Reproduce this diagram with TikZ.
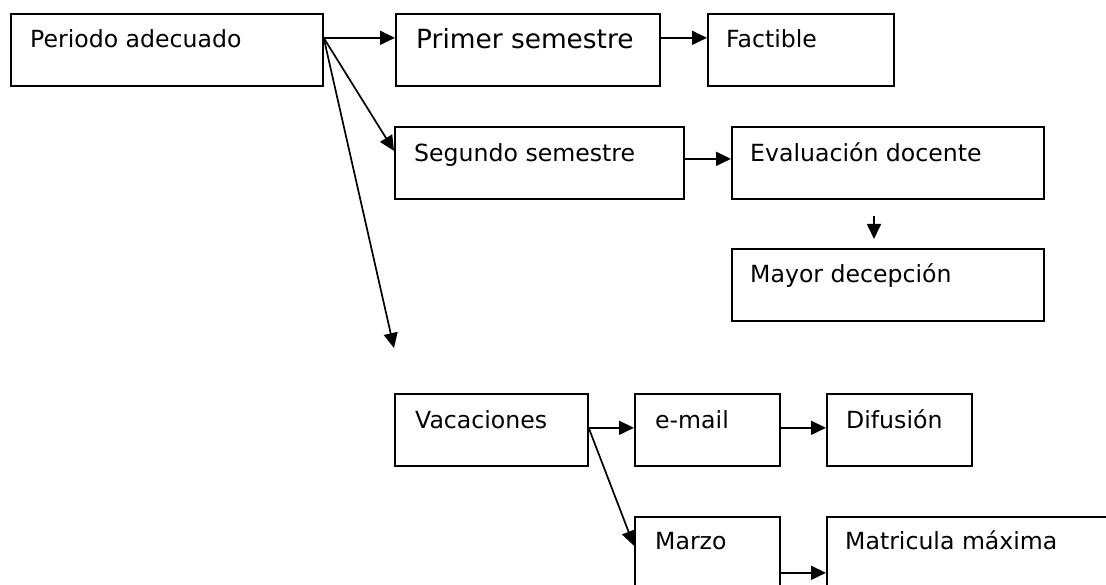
\documentclass[tikz,border=0pt]{standalone}
\usepackage{fontspec}
\setmainfont{DejaVu Sans}
\usetikzlibrary{arrows.meta}
\begin{document}
\begin{tikzpicture}[x=1pt,y=-1pt,
  box/.style={draw=black,line width=1.7pt,minimum width=#1,inner sep=0pt,anchor=north west},
  txt/.style={anchor=base west,inner sep=0pt,font=\fontsize{23.6}{28}\selectfont},
  bigtxt/.style={anchor=base west,inner sep=0pt,font=\fontsize{26.4}{30}\selectfont},
  arr/.style={line width=1.7pt,-{Triangle[length=15pt,width=14pt]}}]
\useasboundingbox (0,0) rectangle (1106,585);
% boxes
\node[box=312pt,minimum height=72pt] (b1) at (10,13) {};
\node[box=264pt,minimum height=72pt] (b2) at (395,13) {};
\node[box=186pt,minimum height=72pt] (b3) at (707,13) {};
\node[box=289pt,minimum height=72pt] (b4) at (394,126) {};
\node[box=312pt,minimum height=72pt] (b5) at (731,126) {};
\node[box=312pt,minimum height=72pt] (b6) at (731,248) {};
\node[box=193pt,minimum height=72pt] (b7) at (394,393) {};
\node[box=145pt,minimum height=72pt] (b8) at (634,393) {};
\node[box=145pt,minimum height=72pt] (b9) at (826,393) {};
\node[box=145pt,minimum height=80pt] (b10) at (634,516) {};
\node[box=300pt,minimum height=80pt] (b11) at (826,516) {};
% texts
\node[txt] (t1) at ([shift={(20,35)}]b1.north west) {Periodo adecuado};
\node[bigtxt] (t2) at ([shift={(21,36)}]b2.north west) {Primer semestre};
\node[txt] (t3) at ([shift={(19,35)}]b3.north west) {Factible};
\node[txt] (t4) at ([shift={(20,36)}]b4.north west) {Segundo semestre};
\node[txt] (t5) at ([shift={(19,36)}]b5.north west) {Evaluación docente};
\node[txt] (t6) at ([shift={(19,35)}]b6.north west) {Mayor decepción};
\node[txt] (t7) at ([shift={(21,35)}]b7.north west) {Vacaciones};
\node[txt] (t8) at ([shift={(21,35)}]b8.north west) {e-mail};
\node[txt] (t9) at ([shift={(20,35)}]b9.north west) {Difusión};
\node[txt] (t10) at ([shift={(21,33)}]b10.north west) {Marzo};
\node[txt] (t11) at ([shift={(19,33)}]b11.north west) {Matricula máxima};
% free ends
\coordinate (longend) at (394,348);
\coordinate (dstart) at (874,216);
\coordinate (dend) at (874,239);
% connectors
\draw[arr] ([yshift=12pt]b1.east) -- ([yshift=12pt]b2.west);
\draw[arr] ([yshift=12pt]b2.east) -- ([yshift=12pt]b3.west);
\draw[arr] ([yshift=12pt]b1.east) -- ([yshift=12pt]b4.west);
\draw[arr] ([yshift=12pt]b1.east) -- (longend);
\draw[arr] ([yshift=4pt]b4.east) -- ([yshift=4pt]b5.west);
\draw[arr] (dstart) -- (dend);
\draw[arr] ([yshift=2pt]b7.east) -- ([yshift=2pt]b8.west);
\draw[arr] ([yshift=2pt]b8.east) -- ([yshift=2pt]b9.west);
\draw[arr] ([yshift=2pt]b7.east) -- ([yshift=11pt]b10.west);
\draw[arr] ([yshift=-16pt]b10.east) -- ([yshift=-16pt]b11.west);
\end{tikzpicture}
\end{document}
